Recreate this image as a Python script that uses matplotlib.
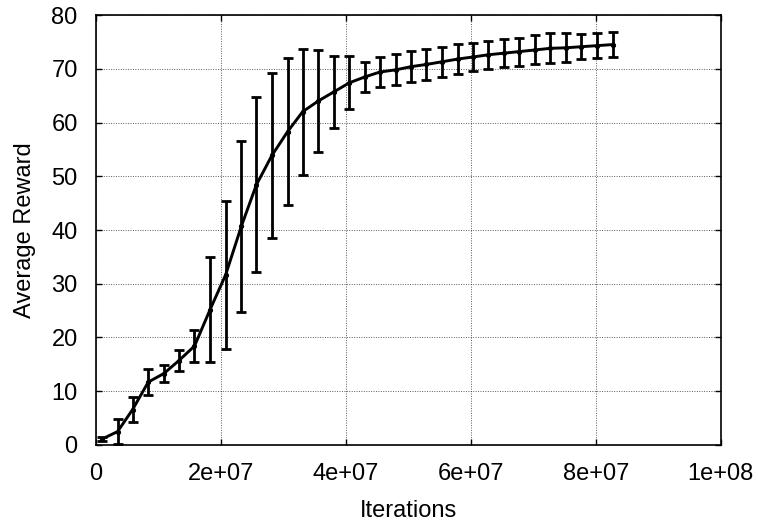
import numpy as np
import matplotlib
matplotlib.use("Agg")
import matplotlib.pyplot as plt
from matplotlib.ticker import FuncFormatter

# training curve
iterations = [1.0e6, 3.5e6, 5.9e6, 8.4e6, 10.9e6, 13.3e6, 15.8e6, 18.3e6,
              20.8e6, 23.3e6, 25.7e6, 28.2e6, 30.7e6, 33.1e6, 35.6e6, 38.1e6,
              40.6e6, 43.1e6, 45.5e6, 48.0e6, 50.5e6, 52.9e6, 55.4e6, 57.9e6,
              60.4e6, 62.8e6, 65.3e6, 67.8e6, 70.3e6, 72.7e6, 75.2e6, 77.7e6,
              80.2e6, 82.7e6]
avg_reward = [1.1, 2.5, 6.6, 11.7, 13.3, 15.7, 18.4, 25.2,
              31.7, 40.7, 48.4, 53.9, 58.3, 62.0, 64.0, 65.7,
              67.4, 68.5, 69.4, 69.8, 70.4, 70.8, 71.3, 71.8,
              72.2, 72.6, 72.9, 73.2, 73.5, 73.8, 73.9, 74.1,
              74.3, 74.5]
reward_err = [0.3, 2.3, 2.35, 2.4, 1.5, 1.9, 3.05, 9.8,
              13.75, 15.9, 16.3, 15.35, 13.7, 11.75, 9.45, 6.7,
              4.95, 2.85, 2.85, 2.9, 2.9, 2.9, 2.8, 2.85,
              2.65, 2.6, 2.6, 2.6, 2.7, 2.8, 2.7, 2.35,
              2.35, 2.25]

x_ticks = [0, 2e7, 4e7, 6e7, 8e7, 1e8]
y_ticks = [0, 10, 20, 30, 40, 50, 60, 70, 80]

plt.rcParams['font.family'] = ['Liberation Sans', 'DejaVu Sans']

fig = plt.figure(figsize=(7.58, 5.25), dpi=100)
ax = fig.add_axes([0.1263, 0.1524, 0.8245, 0.819])

ax.plot(iterations, avg_reward, color='black', lw=2.1, zorder=3)
ax.errorbar(iterations, avg_reward, yerr=reward_err, fmt='none', ecolor='black',
            elinewidth=2.0, capsize=3.6, capthick=2.0, zorder=3)
ax.plot(iterations, avg_reward, 'k.', ms=5.5, zorder=4)

ax.set_xlim(0, 1e8)
ax.set_ylim(0, 80)
ax.set_xticks(x_ticks)
ax.set_yticks(y_ticks)
ax.xaxis.set_major_formatter(FuncFormatter(lambda v, p: '%g' % v))

ax.grid(True, color='#333333', linestyle=(0, (1, 1.5)), linewidth=0.7, alpha=0.8)
ax.tick_params(direction='in', length=4.5, width=1, top=True, right=True,
               labelsize=17, pad=13)
for s in ax.spines.values():
    s.set_linewidth(1.2)

ax.set_xlabel('Iterations', fontsize=17, labelpad=11)
ax.set_ylabel('Average Reward', fontsize=17, labelpad=11)

fig.savefig('out.png', dpi=100)
